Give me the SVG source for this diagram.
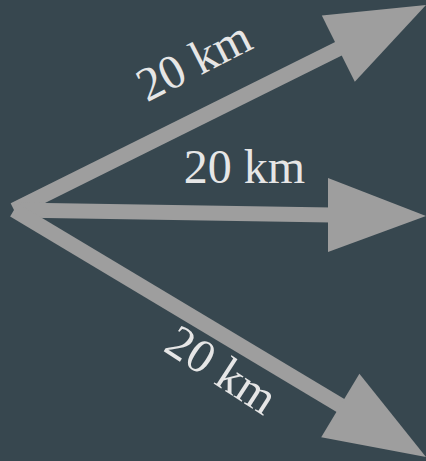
<svg xmlns="http://www.w3.org/2000/svg" width="426" height="461" viewBox="0 0 426 461">
<style>
.shaft{stroke:#9e9e9e;stroke-width:15;fill:none}
.head{fill:#9e9e9e}
.lbl{font-family:"Liberation Serif","Times New Roman",serif;font-size:48px;fill:#e6e6e6;text-anchor:middle}
</style>
<rect width="426" height="461" fill="#37474f"/>
<g id="connectors">
<line class="shaft" x1="14" y1="210" x2="342" y2="47"/>
<polygon class="head" points="426,5 354.8,81.8 321.8,15.6"/>
<line class="shaft" x1="14" y1="210" x2="332" y2="215"/>
<polygon class="head" points="426,216 328,252 328,178"/>
<line class="shaft" x1="14" y1="210" x2="343" y2="407"/>
<polygon class="head" points="426,457 321.2,437.2 359.4,373.8"/>
</g>
<g id="labels">
<text class="lbl" transform="translate(201,75) rotate(-27)">20 km</text>
<text class="lbl" x="244.5" y="183">20 km</text>
<text class="lbl" transform="translate(213,383) rotate(33)">20 km</text>
</g>
</svg>
